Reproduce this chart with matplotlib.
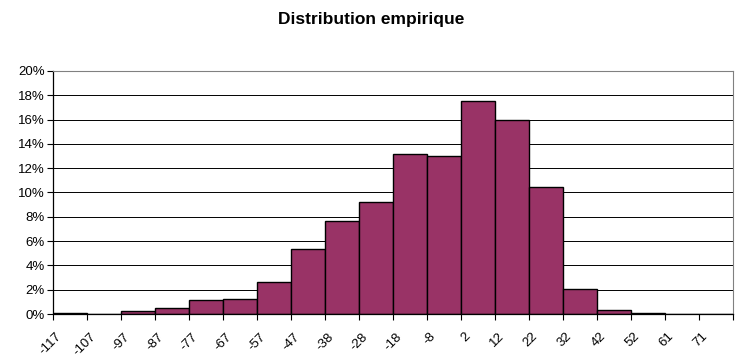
import numpy as np
import matplotlib.pyplot as plt
import matplotlib.transforms as mtransforms
from matplotlib.ticker import PercentFormatter

# class labels and relative frequencies (%)
classes = ['-117', '-107', '-97', '-87', '-77', '-67', '-57', '-47', '-38', '-28',
           '-18', '-8', '2', '12', '22', '32', '42', '52', '61', '71']
freq = [0.12, 0.0, 0.27, 0.49, 1.12, 1.2, 2.63, 5.37, 7.63, 9.24,
        13.2, 12.98, 17.56, 15.97, 10.45, 2.03, 0.36, 0.07, 0.0, 0.0]

plt.rcParams['font.family'] = ['Liberation Sans', 'DejaVu Sans']

fig = plt.figure(figsize=(7.36, 3.59), dpi=100)
ax = fig.add_axes([0.072, 0.1253, 0.924, 0.677])

x = np.arange(len(classes))
ax.set_axisbelow(True)
ax.yaxis.grid(True, color='black', linewidth=0.7)
ax.bar(x, freq, width=1.0, color='#993366', edgecolor='black', linewidth=1.0, zorder=2)

ax.set_xlim(-0.5, len(classes) - 0.5)
ax.set_ylim(0, 20)
ax.set_yticks(np.arange(0, 21, 2))
ax.yaxis.set_major_formatter(PercentFormatter(decimals=0))
ax.tick_params(axis='y', labelsize=9.5, length=4, width=0.8, direction='out', pad=2)

# boundary ticks as minor, labels at bar centres
ax.set_xticks(np.arange(-0.5, len(classes)), minor=True)
ax.set_xticks(x)
ax.set_xticklabels(classes, rotation=45, ha='right', va='center', rotation_mode='anchor')
ax.tick_params(axis='x', which='major', length=0, labelsize=9.5, pad=15)
ax.tick_params(axis='x', which='minor', length=4, width=0.8, direction='out')
shift = mtransforms.ScaledTranslation(-10 / 100, 0, fig.dpi_scale_trans)
for lbl in ax.get_xticklabels():
    lbl.set_transform(lbl.get_transform() + shift)

for side in ('top', 'right'):
    ax.spines[side].set_color('#808080')
for side in ('left', 'bottom'):
    ax.spines[side].set_color('black')
    ax.spines[side].set_linewidth(0.9)

fig.text(0.504, 0.945, 'Distribution empirique', ha='center', va='center',
         fontsize=12.5, fontweight='bold')

fig.savefig('out.png', dpi=100)
